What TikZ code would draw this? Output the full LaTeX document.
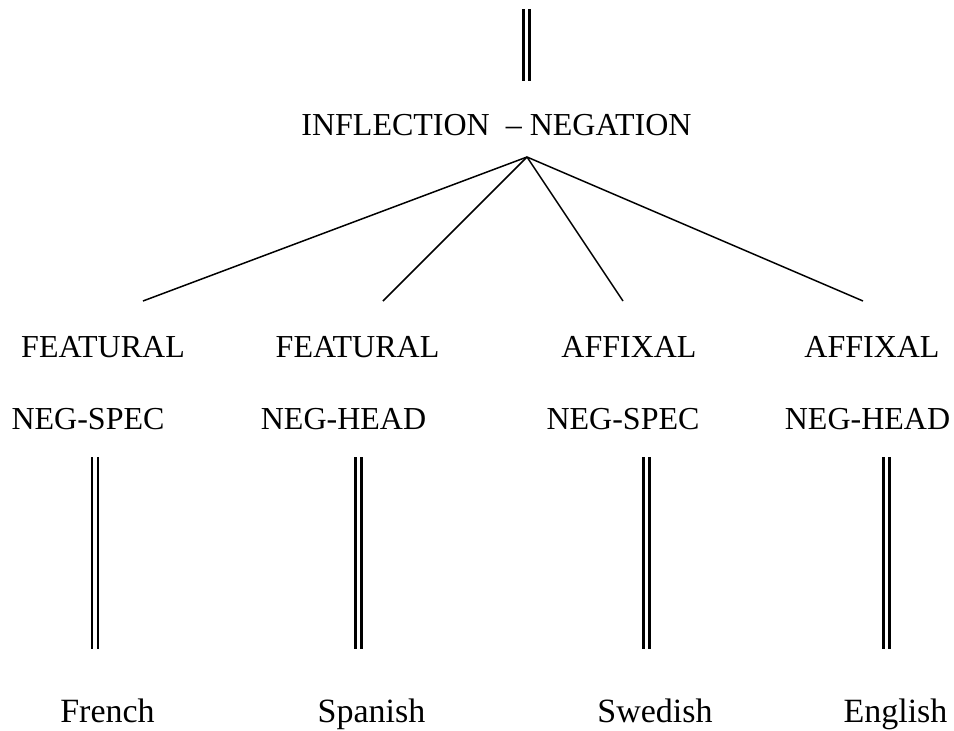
\documentclass[tikz,border=0pt]{standalone}
\usepackage{fontspec}
\setmainfont{Liberation Serif}
\begin{document}
\begin{tikzpicture}[x=1pt,y=-1pt,
  lab/.style={inner sep=0pt,anchor=base,font=\fontsize{32}{36}\selectfont},
  lang/.style={inner sep=0pt,anchor=base,font=\fontsize{34}{38}\selectfont},
  branch/.style={line width=1.5pt},
  dbl/.style={double,double distance=3.8pt,line width=2.3pt}]
\useasboundingbox (0,0) rectangle (954,731);
% top
\coordinate (t1) at (526.5,9);
\coordinate (t2) at (526.5,81);
\draw[dbl] (t1) -- (t2);
\node[lab] (infl) at (496.5,135) {INFLECTION \ – NEGATION};
% branches
\coordinate (apex) at (527,157);
\coordinate (e1) at (143,301);
\coordinate (e2) at (383,301);
\coordinate (e3) at (623,301);
\coordinate (e4) at (863,301);
\draw[branch] (apex) -- (e1);
\draw[branch] (apex) -- (e2);
\draw[branch] (apex) -- (e3);
\draw[branch] (apex) -- (e4);
% labels
\node[lab] (f1) at (103,357) {FEATURAL};
\node[lab] (f2) at (357.5,357) {FEATURAL};
\node[lab] (a1) at (629,357) {AFFIXAL};
\node[lab] (a2) at (872,357) {AFFIXAL};
\node[lab] (n1) at (88,429) {NEG-SPEC};
\node[lab] (n2) at (343.5,429) {NEG-HEAD};
\node[lab] (n3) at (623,429) {NEG-SPEC};
\node[lab] (n4) at (867.5,429) {NEG-HEAD};
% vertical double lines
\coordinate (v1a) at (95,457);   \coordinate (v1b) at (95,649);
\coordinate (v2a) at (358.5,457); \coordinate (v2b) at (358.5,649);
\coordinate (v3a) at (646.5,457); \coordinate (v3b) at (646.5,649);
\coordinate (v4a) at (886.5,457); \coordinate (v4b) at (886.5,649);
\draw[dbl] (v1a) -- (v1b);
\draw[dbl] (v2a) -- (v2b);
\draw[dbl] (v3a) -- (v3b);
\draw[dbl] (v4a) -- (v4b);
% languages
\node[lang] (fr) at (107.5,722) {French};
\node[lang] (sp) at (371.5,722) {Spanish};
\node[lang] (sw) at (655,722) {Swedish};
\node[lang] (en) at (895.5,722) {English};
\end{tikzpicture}
\end{document}
